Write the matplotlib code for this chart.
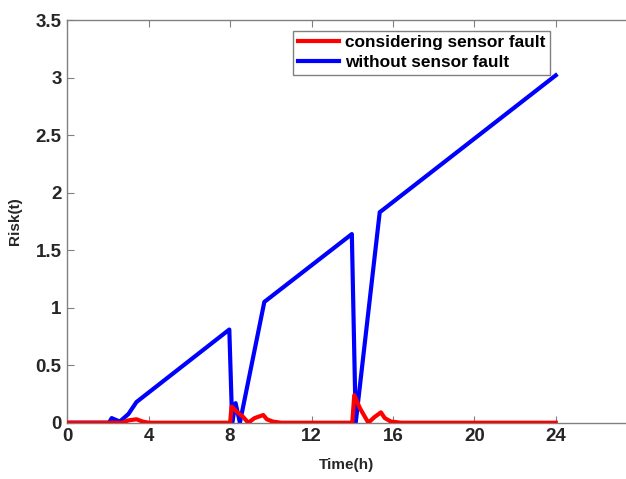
import matplotlib
matplotlib.use("Agg")
import matplotlib.pyplot as plt

# Data
t_blue = [0, 2.05, 2.18, 2.58, 3.0, 3.4, 7.96, 8.1, 8.27, 8.48, 9.68, 13.98, 14.17, 15.35, 15.5, 24]
r_blue = [0, 0, 0.04, 0.01, 0.075, 0.18, 0.81, 0.0, 0.17, 0.0, 1.05, 1.64, 0.0, 1.83, 1.85, 3.02]

t_red = [0, 2.7, 3.0, 3.4, 3.7, 4.0, 8.0, 8.07, 8.3, 8.64, 8.89, 9.2, 9.63, 9.8, 10.1, 10.5,
         14.0, 14.1, 14.38, 14.79, 15.1, 15.41, 15.6, 15.9, 16.4, 24]
r_red = [0, 0, 0.02, 0.03, 0.01, 0.0, 0.0, 0.14, 0.1, 0.05, 0.0, 0.04, 0.067, 0.03, 0.01, 0.0,
         0.0, 0.24, 0.125, 0.0, 0.05, 0.09, 0.04, 0.01, 0.0, 0.0]

xticks = [0, 4, 8, 12, 16, 20, 24]
yticks = [0, 0.5, 1, 1.5, 2, 2.5, 3, 3.5]
ytick_labels = ["0", "0.5", "1", "1.5", "2", "2.5", "3", "3.5"]

plt.rcParams['font.family'] = ['Liberation Sans', 'DejaVu Sans']

fig = plt.figure(figsize=(6.26, 4.79), dpi=100)
ax = fig.add_axes([0.1075, 0.1175, 0.8925, 0.8405])

ax.plot(t_red, r_red, color='#ff0000', lw=3, label='considering sensor fault', zorder=3)
ax.plot(t_blue, r_blue, color='#0000ff', lw=3, label='without sensor fault', zorder=2)

ax.set_xlim(0, 27.45)
ax.set_ylim(0, 3.5)
ax.set_xticks(xticks)
ax.set_yticks(yticks)
ax.set_yticklabels(ytick_labels)

spine_c = '#808080'
for s in ['left', 'bottom', 'top']:
    ax.spines[s].set_color(spine_c)
    ax.spines[s].set_linewidth(1.0)
ax.spines['right'].set_visible(False)

ax.tick_params(direction='in', top=True, right=False, length=5, color=spine_c,
               labelsize=13.5, labelcolor='#262626', pad=4)
for lab in ax.get_xticklabels() + ax.get_yticklabels():
    lab.set_fontweight('bold')

ax.set_xlabel('Time(h)', fontsize=11, fontweight='bold', color='#262626', labelpad=9)
ax.set_ylabel('Risk(t)', fontsize=11, fontweight='bold', color='#262626', labelpad=10)

leg = ax.legend(loc='upper left', bbox_to_anchor=(0.404, 0.974),
                prop={'weight': 'bold', 'size': 12.4}, frameon=True, fancybox=False,
                handlelength=2.4, handletextpad=0.33, borderpad=0.28, labelspacing=0.28,
                borderaxespad=0, framealpha=1.0)
leg.get_frame().set_edgecolor(spine_c)
leg.get_frame().set_linewidth(1.0)

fig.savefig('out.png', dpi=100)
